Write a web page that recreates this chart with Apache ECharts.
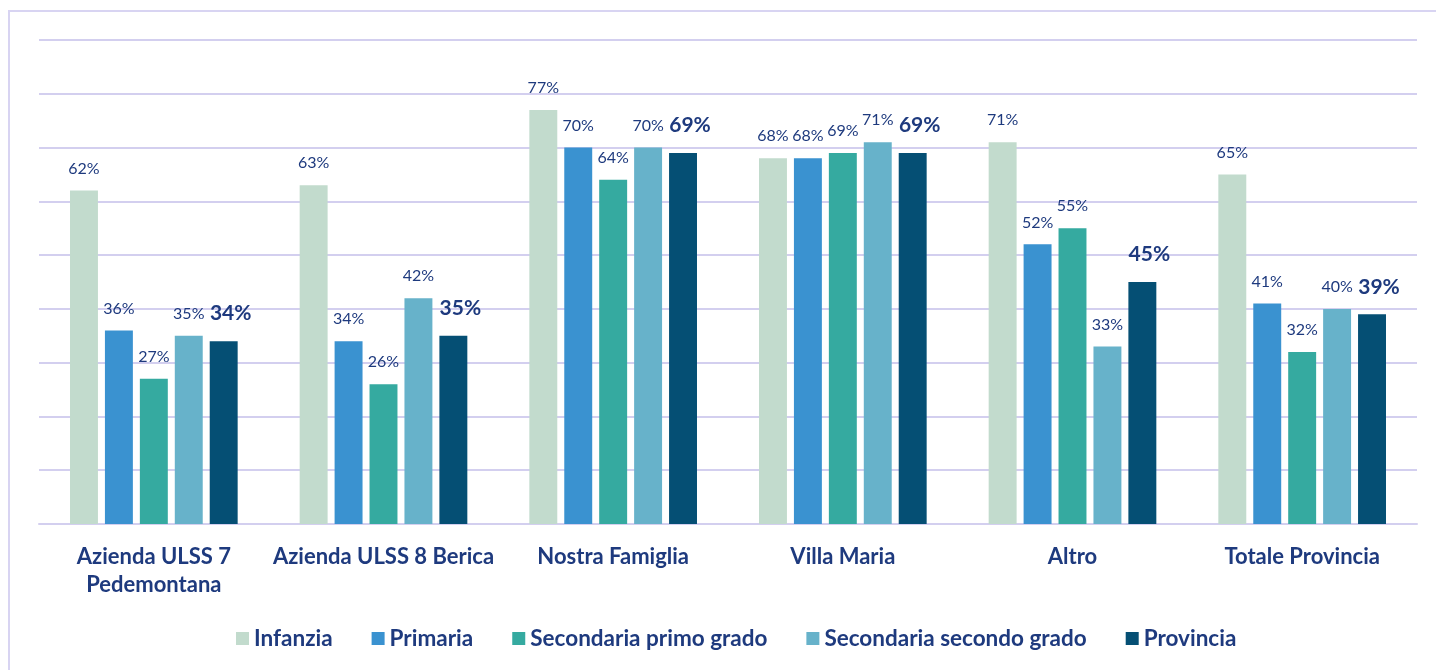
<!DOCTYPE html>
<html>
<head>
<meta charset="utf-8">
<script src="https://cdn.jsdelivr.net/npm/echarts@6/dist/echarts.min.js"></script>
<style>
    html, body { margin: 0; padding: 0; background: #fff; }
    #chart { width: 1436px; height: 670px; }
</style>
</head>
<body>
<div id="chart"></div>
<script>
const categories = ['Azienda ULSS 7\nPedemontana', 'Azienda ULSS 8 Berica', 'Nostra Famiglia', 'Villa Maria', 'Altro', 'Totale Provincia'];
const infanzia = [62, 63, 77, 68, 71, 65];
const primaria = [36, 34, 70, 68, 52, 41];
const secondariaPrimo = [27, 26, 64, 69, 55, 32];
const secondariaSecondo = [35, 42, 70, 71, 33, 40];
const provincia = [34, 35, 69, 69, 45, 39];

const seriesNames = ['Infanzia', 'Primaria', 'Secondaria primo grado', 'Secondaria secondo grado', 'Provincia'];
const seriesData = [infanzia, primaria, secondariaPrimo, secondariaSecondo, provincia];
const colors = ['#C2DBCD', '#3A92D0', '#35AAA0', '#67B2CA', '#054F74'];

const textColor = '#1E3A7E';
const fontFamily = 'Lato, "Open Sans", sans-serif';

let chart = echarts.init(document.getElementById('chart'));

let series = seriesNames.map(function (name, i) {
    let bold = name == 'Provincia';
    return {
        name: name,
        type: 'bar',
        data: seriesData[i],
        barGap: '25%',
        barCategoryGap: '27%',
        itemStyle: {color: colors[i]},
        label: {
            show: true,
            position: 'top',
            distance: bold ? 17 : 14,
            offset: bold ? [7, 0] : [0, 0],
            formatter: '{c}%',
            color: textColor,
            fontFamily: fontFamily,
            fontSize: bold ? 21 : 16,
            fontWeight: bold ? 'bold' : 'normal'
        }
    };
});

chart.setOption({
    backgroundColor: '#fff',
    animation: false,
    color: colors,
    graphic: [{
        type: 'rect',
        shape: {x: 9, y: 11, width: 1440, height: 700},
        style: {fill: 'none', stroke: '#D8D4F2', lineWidth: 2}
    }],
    grid: {
        left: 39,
        right: 19,
        top: 40,
        bottom: 146,
        containLabel: false
    },
    legend: {
        top: 622,
        left: 231,
        itemWidth: 13,
        itemHeight: 13,
        itemGap: 39,
        icon: 'rect',
        textStyle: {
            color: textColor,
            fontFamily: fontFamily,
            fontSize: 22.5,
            fontWeight: 'bold'
        }
    },
    xAxis: {
        type: 'category',
        data: categories,
        axisTick: {show: false},
        axisLine: {lineStyle: {color: '#D3CFEF', width: 2}},
        axisLabel: {
            interval: 0,
            margin: 19,
            color: textColor,
            fontFamily: fontFamily,
            fontSize: 22,
            fontWeight: 'bold',
            lineHeight: 28
        }
    },
    yAxis: {
        type: 'value',
        min: 0,
        max: 90,
        interval: 10,
        axisLabel: {show: false},
        axisLine: {show: false},
        axisTick: {show: false},
        splitLine: {lineStyle: {color: '#D3CFEF', width: 2}}
    },
    series: series
});
</script>
</body>
</html>
